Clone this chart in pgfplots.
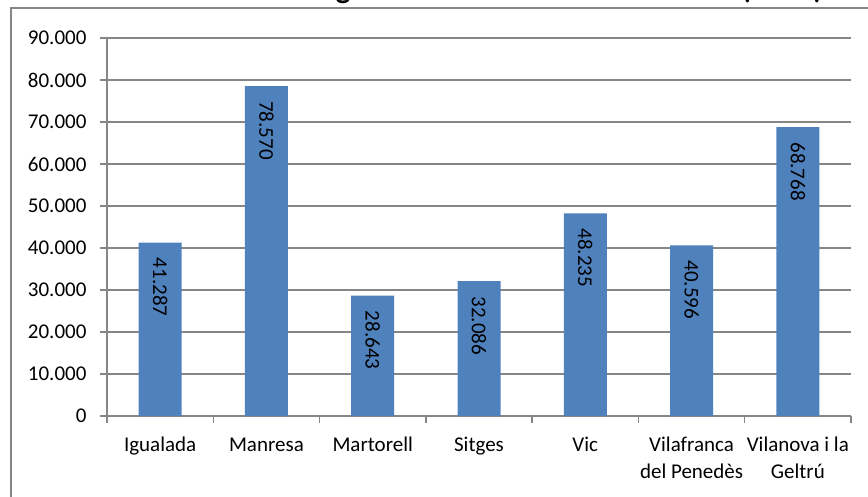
\documentclass[border=0pt]{standalone}
\usepackage{pgfplots}
\pgfplotsset{compat=1.18}
\usepackage{fontspec}
\setmainfont{Carlito}
\definecolor{barblue}{HTML}{4F81BD}
\definecolor{gridgray}{HTML}{868686}
\begin{document}
\begin{tikzpicture}[x=1pt,y=1pt]
\useasboundingbox (0,0) rectangle (868,496);
\clip (0,0) rectangle (868,496);
\node[anchor=base, inner sep=0pt, font=\fontsize{31}{36}\selectfont\bfseries] at (447,497) {Gràfic 3. Població d'Igualada i les ciutats de l'entorn (2013)};
\draw[gridgray, line width=1.5pt] (11,488) rectangle (900,-20);
\begin{axis}[
  at={(107pt,80pt)}, anchor=south west,
  scale only axis, width=744pt, height=378pt,
  ymin=0, ymax=90000, ytick={0,10000,...,90000},
  xmin=-0.5, xmax=6.5,
  xtick={-0.5,0.5,...,6.5},
  xticklabels={,,,,,,,},
  extra x ticks={0,1,2,3,4,5,6},
  extra x tick labels={\strut Igualada, \strut Manresa, \strut Martorell, \strut Sitges, \strut Vic, {\strut Vilafranca\\del Penedès}, {\strut Vilanova i la\\Geltrú}},
  extra x tick style={major tick length=0pt},
  xticklabel shift=13pt,
  yticklabel shift=10pt,
  scaled y ticks=false,
  axis x line*=bottom, axis y line*=left,
  axis line style={gridgray, line width=1.5pt},
  ymajorgrids, grid style={gridgray, line width=1.5pt},
  tick align=outside,
  major tick length=7pt,
  tick style={gridgray, line width=1.5pt},
  ticklabel style={font=\fontsize{21}{27}\selectfont},
  xticklabel style={align=center},
  /pgf/number format/1000 sep={.},
  /pgf/number format/assume math mode=true,
  ybar, bar width=43pt,
  nodes near coords,
  every node near coord/.append style={font=\fontsize{21}{27}\selectfont, rotate=-90, anchor=west, inner sep=0pt, xshift=15pt, black},
  clip=false,
]
\addplot[fill=barblue, draw=none] coordinates {(0,41287) (1,78570) (2,28643) (3,32086) (4,48235) (5,40596) (6,68768)};
\end{axis}
\end{tikzpicture}
\end{document}
